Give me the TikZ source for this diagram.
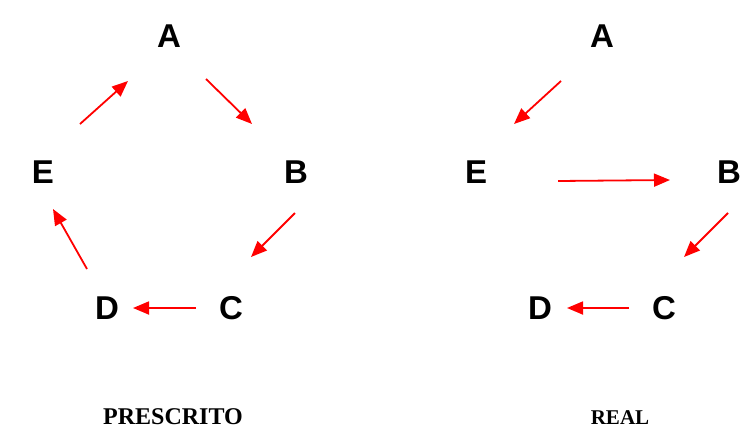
\documentclass[tikz,border=0pt]{standalone}
\usepackage{fontspec}
\setmainfont{Liberation Serif}
\newfontfamily\lettfont{Liberation Sans}
\usetikzlibrary{arrows.meta}
\begin{document}
\begin{tikzpicture}[x=1pt,y=-1pt,
  letter/.style={font=\lettfont\bfseries\fontsize{33}{33}\selectfont,inner sep=0pt,anchor=center},
  caption/.style={font=\bfseries\fontsize{24}{24}\selectfont,inner sep=0pt,anchor=center},
  redarrow/.style={draw=red,line width=1.8pt,-{Triangle[length=16pt,width=13pt]}}]
\useasboundingbox (0,0) rectangle (749,429);
% left diagram: PRESCRITO
\node[letter] (lA) at (169,36) {A};
\node[letter] (lB) at (296,172) {B};
\node[letter] (lC) at (231,308) {C};
\node[letter] (lD) at (107,308) {D};
\node[letter] (lE) at (43,172) {E};
\coordinate (lEAs) at (80,124);  \coordinate (lEAe) at (128,81);
\coordinate (lABs) at (206,79);  \coordinate (lABe) at (252,124);
\coordinate (lBCs) at (295,213); \coordinate (lBCe) at (251,257);
\coordinate (lCDs) at (196,308); \coordinate (lCDe) at (133,308);
\coordinate (lDEs) at (87,269);  \coordinate (lDEe) at (53,209);
\draw[redarrow] (lEAs) -- (lEAe);
\draw[redarrow] (lABs) -- (lABe);
\draw[redarrow] (lBCs) -- (lBCe);
\draw[redarrow] (lCDs) -- (lCDe);
\draw[redarrow] (lDEs) -- (lDEe);
\node[caption] (lcap) at (173,417) {PRESCRITO};
% right diagram: REAL
\node[letter] (rA) at (602,36) {A};
\node[letter] (rB) at (729,172) {B};
\node[letter] (rC) at (664,308) {C};
\node[letter] (rD) at (540,308) {D};
\node[letter] (rE) at (476,172) {E};
\coordinate (rAEs) at (561,81);  \coordinate (rAEe) at (514,124);
\coordinate (rEBs) at (558,181); \coordinate (rEBe) at (670,180);
\coordinate (rBCs) at (728,213); \coordinate (rBCe) at (684,257);
\coordinate (rCDs) at (629,308); \coordinate (rCDe) at (567,308);
\draw[redarrow] (rAEs) -- (rAEe);
\draw[redarrow] (rEBs) -- (rEBe);
\draw[redarrow] (rBCs) -- (rBCe);
\draw[redarrow] (rCDs) -- (rCDe);
\node[caption,font=\bfseries\fontsize{21}{21}\selectfont] (rcap) at (620,418) {REAL};
\end{tikzpicture}
\end{document}
